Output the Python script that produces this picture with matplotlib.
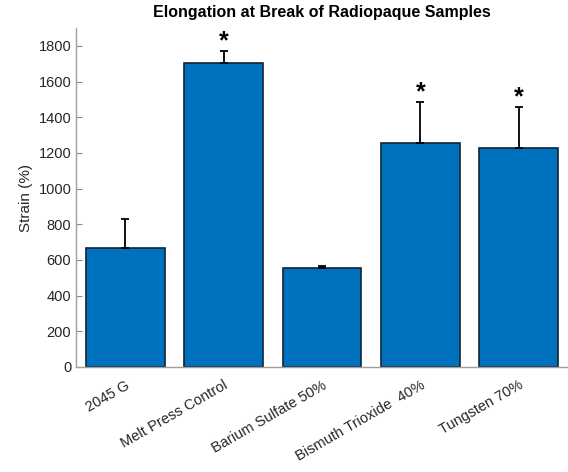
import matplotlib
matplotlib.use("Agg")
import matplotlib.pyplot as plt
import numpy as np

categories = ["2045 G", "Melt Press Control", "Barium Sulfate 50%", "Bismuth Trioxide  40%", "Tungsten 70%"]
values = [665, 1705, 555, 1255, 1225]
errors = [162, 67, 10, 232, 234]
significant = [False, True, False, True, True]

plt.rcParams['font.family'] = ['Liberation Sans', 'DejaVu Sans']

fig = plt.figure(figsize=(5.68, 4.72), dpi=100)
ax = fig.add_axes([0.134, 0.2225, 0.866, 0.718])

x = np.arange(1, len(categories) + 1)
ax.bar(x, values, width=0.8, color='#0072BD', edgecolor='#10233a', linewidth=1.2, zorder=2)
ax.errorbar(x, values, yerr=[np.zeros(len(errors)), errors], fmt='none', ecolor='black',
            elinewidth=1.3, capsize=3, capthick=1.3, zorder=3)
for xi, v, e, s in zip(x, values, errors, significant):
    if s:
        ax.annotate('*', xy=(xi, v + e), xytext=(0, -2), textcoords='offset points',
                    ha='center', va='bottom', fontsize=18, fontweight='bold')

ax.set_xlim(0.5, 5.5)
ax.set_ylim(0, 1900)
ax.set_yticks(range(0, 1801, 200))
ax.set_xticks(x)
ax.set_xticklabels(categories, rotation=30, ha='right', rotation_mode='anchor', fontsize=10.5, color='#262626')
ax.tick_params(axis='x', length=0, pad=8)
ax.tick_params(axis='y', direction='in', length=4, color='#8a8a8a', labelsize=10.5, labelcolor='#262626')
for side in ['top', 'right']:
    ax.spines[side].set_visible(False)
for side in ['left', 'bottom']:
    ax.spines[side].set_color('#a0a0a0')
    ax.spines[side].set_linewidth(1.0)
ax.set_ylabel('Strain (%)', fontsize=11, color='#262626')
ax.set_title('Elongation at Break of Radiopaque Samples', fontsize=11.5, fontweight='bold', pad=8)

fig.savefig('out.png', dpi=100)
